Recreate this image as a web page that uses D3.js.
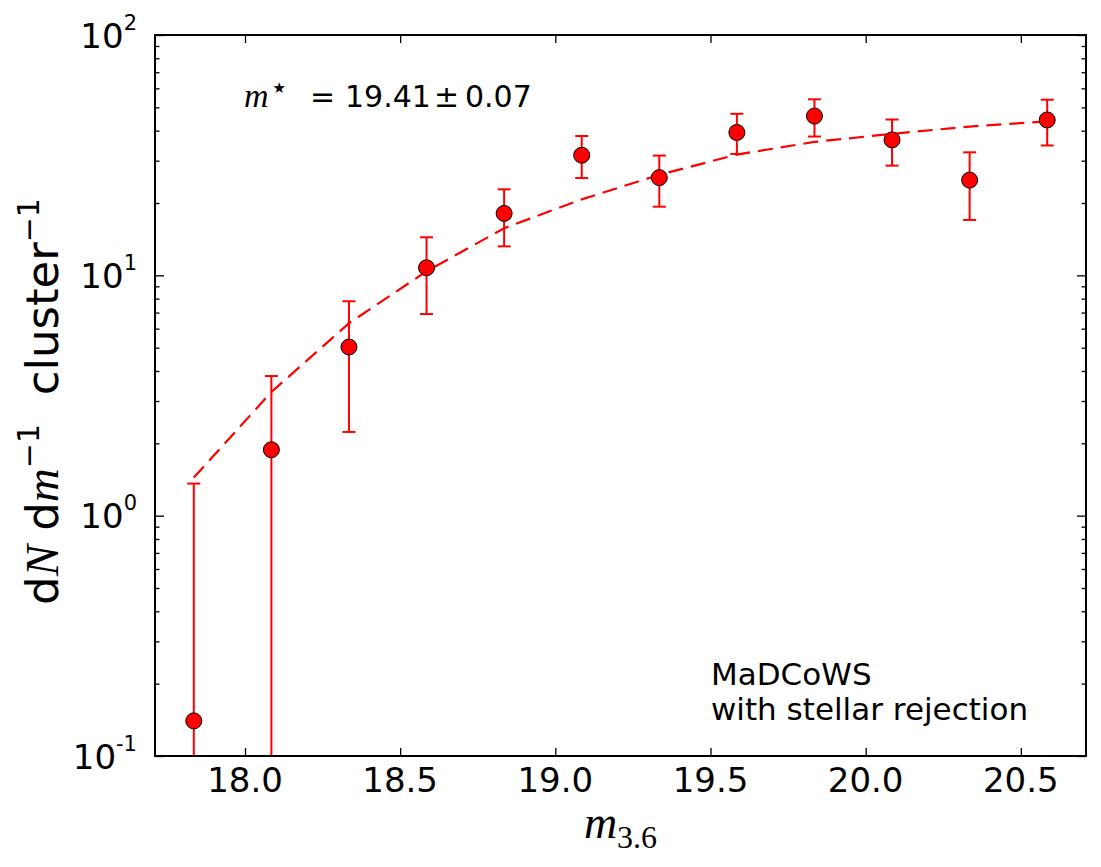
<!DOCTYPE html>
<html>
<head>
<meta charset="utf-8">
<script src="https://cdn.jsdelivr.net/npm/d3@7"></script>
<style>
  html, body { margin: 0; padding: 0; background: #fff; }
  svg { display: block; }
  text { font-family: "DejaVu Sans", sans-serif; fill: #000; white-space: pre; }
  .serif { font-family: "Liberation Serif", "DejaVu Serif", serif; font-style: italic; }
  .roman { font-family: "Liberation Serif", "DejaVu Serif", serif; font-style: normal; }
</style>
</head>
<body>
<svg id="chart" width="1101" height="867"></svg>
<script>
// ---- data ----
const magBins   = [17.835, 18.085, 18.335, 18.585, 18.835, 19.085, 19.335, 19.585, 19.835, 20.085, 20.335, 20.585];
const counts    = [0.140, 1.88, 5.03, 10.75, 18.1, 31.6, 25.5, 39.3, 46.0, 36.6, 24.9, 44.3];
const upperErr  = [1.36, 3.81, 7.8, 14.4, 22.8, 38.0, 31.5, 47.0, 54.0, 44.5, 32.5, 53.8];
const lowerErr  = [0, 0, 2.23, 6.9, 13.2, 25.4, 19.3, 32.0, 37.8, 28.6, 17.0, 34.7];
const modelFit  = [1.44, 3.27, 6.32, 10.4, 15.7, 20.7, 26.2, 31.8, 35.9, 38.8, 41.6, 43.7];
const xTicks    = [18.0, 18.5, 19.0, 19.5, 20.0, 20.5];
const yMajor    = [0.1, 1, 10, 100];
const yMajorExp = ["-1", "0", "1", "2"];
const xDomain   = [17.71, 20.71];
const yDomain   = [0.1, 100];
const fitValue  = "19.41";
const fitError  = "0.07";
const noteLines = ["MaDCoWS", "with stellar rejection"];

// ---- layout ----
const L = 155, R = 1086, T = 35, B = 756;
const svg = d3.select("#chart");
const x = d3.scaleLinear().domain(xDomain).range([L, R]);
const y = d3.scaleLog().domain(yDomain).range([B, T]);

const yMinor = [];
for (let e = -1; e < 2; e++) for (let k = 2; k <= 9; k++) yMinor.push(k * Math.pow(10, e));

// clip
svg.append("defs").append("clipPath").attr("id", "clip")
  .append("rect").attr("x", L).attr("y", T).attr("width", R - L).attr("height", B - T);

const plot = svg.append("g").attr("clip-path", "url(#clip)");

// model dashed line
const line = d3.line().x((d, i) => x(magBins[i])).y(d => y(d));
plot.append("path").datum(modelFit)
  .attr("d", line)
  .attr("fill", "none")
  .attr("stroke", "#ff0000")
  .attr("stroke-width", 2.2)
  .attr("stroke-dasharray", "15,8");

// error bars
const yc = v => v > yDomain[0] ? y(v) : B + 20;
const capW = 6.5;
magBins.forEach((m, i) => {
  const g = plot.append("g").attr("stroke", "#ff0000").attr("stroke-width", 2);
  g.append("line").attr("x1", x(m)).attr("x2", x(m)).attr("y1", yc(lowerErr[i])).attr("y2", yc(upperErr[i]));
  g.append("line").attr("x1", x(m) - capW).attr("x2", x(m) + capW).attr("y1", y(upperErr[i])).attr("y2", y(upperErr[i]));
  if (lowerErr[i] > yDomain[0]) {
    g.append("line").attr("x1", x(m) - capW).attr("x2", x(m) + capW).attr("y1", y(lowerErr[i])).attr("y2", y(lowerErr[i]));
  }
});

// markers
plot.selectAll("circle.pt").data(counts).enter().append("circle")
  .attr("class", "pt")
  .attr("cx", (d, i) => x(magBins[i]))
  .attr("cy", d => y(d))
  .attr("r", 8)
  .attr("fill", "#ff0000")
  .attr("stroke", "#000")
  .attr("stroke-width", 1);

// axes (ticks inward on all sides)
function styleAxis(g) {
  g.select(".domain").remove();
  g.selectAll(".tick line").attr("stroke", "#000").attr("stroke-width", 1.3);
  g.selectAll(".tick text").remove();
}
svg.append("g").attr("transform", `translate(0,${B})`)
  .call(d3.axisBottom(x).tickValues(xTicks).tickSize(-8)).call(styleAxis);
svg.append("g").attr("transform", `translate(0,${T})`)
  .call(d3.axisTop(x).tickValues(xTicks).tickSize(-8)).call(styleAxis);
svg.append("g").attr("transform", `translate(${L},0)`)
  .call(d3.axisLeft(y).tickValues(yMajor).tickSize(-9)).call(styleAxis);
svg.append("g").attr("transform", `translate(${L},0)`)
  .call(d3.axisLeft(y).tickValues(yMinor).tickSize(-4.5)).call(styleAxis);
svg.append("g").attr("transform", `translate(${R},0)`)
  .call(d3.axisRight(y).tickValues(yMajor).tickSize(-9)).call(styleAxis);
svg.append("g").attr("transform", `translate(${R},0)`)
  .call(d3.axisRight(y).tickValues(yMinor).tickSize(-4.5)).call(styleAxis);

// frame
svg.append("rect").attr("x", L).attr("y", T).attr("width", R - L).attr("height", B - T)
  .attr("fill", "none").attr("stroke", "#000").attr("stroke-width", 2);

// x tick labels
svg.selectAll("text.xt").data(xTicks).enter().append("text")
  .attr("class", "xt")
  .attr("x", d => x(d)).attr("y", 792)
  .attr("text-anchor", "middle")
  .attr("font-size", 34)
  .text(d => d.toFixed(1));

// y tick labels
yMajor.forEach((v, i) => {
  const t = svg.append("text")
    .attr("x", 137).attr("y", y(v) + 12.5)
    .attr("text-anchor", "end")
    .attr("font-size", 34);
  t.append("tspan").text("10");
  t.append("tspan").attr("dy", -18).attr("font-size", 21).text(yMajorExp[i]);
});

// y axis label
const yl = svg.append("text")
  .attr("transform", `translate(58,${(T + B) / 2 + 6}) rotate(-90)`)
  .attr("text-anchor", "middle")
  .attr("font-size", 45);
yl.append("tspan").text("d");
yl.append("tspan").attr("class", "serif").attr("font-size", 47).text("N");
yl.append("tspan").text(" d");
yl.append("tspan").attr("class", "serif").attr("font-size", 47).text("m");
yl.append("tspan").attr("dy", -19).attr("font-size", 30).text("\u22121");
yl.append("tspan").attr("dy", 19).text("  cluster");
yl.append("tspan").attr("dy", -19).attr("font-size", 30).text("\u22121");

// x axis label
const xl = svg.append("text")
  .attr("x", (L + R) / 2).attr("y", 838)
  .attr("text-anchor", "middle");
xl.append("tspan").attr("class", "serif").attr("font-size", 46).text("m");
xl.append("tspan").attr("class", "roman").attr("font-size", 32).attr("dy", 10).text("3.6");

// m* annotation
const ann = svg.append("text").attr("x", 244).attr("y", 107);
ann.append("tspan").attr("class", "serif").attr("font-size", 34).text("m");
ann.append("tspan").attr("font-size", 15).attr("dy", -14).attr("dx", 4).text("\u2605");
const ann2 = svg.append("text").attr("y", 107).attr("font-size", 30);
ann2.append("tspan").attr("x", 310).text("=");
ann2.append("tspan").attr("x", 345).text(fitValue);
ann2.append("tspan").attr("x", 434).text("\u00B1");
ann2.append("tspan").attr("x", 465).text(fitError);

// note
svg.selectAll("text.note").data(noteLines).enter().append("text")
  .attr("class", "note")
  .attr("x", 711).attr("y", (d, i) => 685 + i * 35)
  .attr("font-size", 31)
  .text(d => d);
</script>
</body>
</html>
